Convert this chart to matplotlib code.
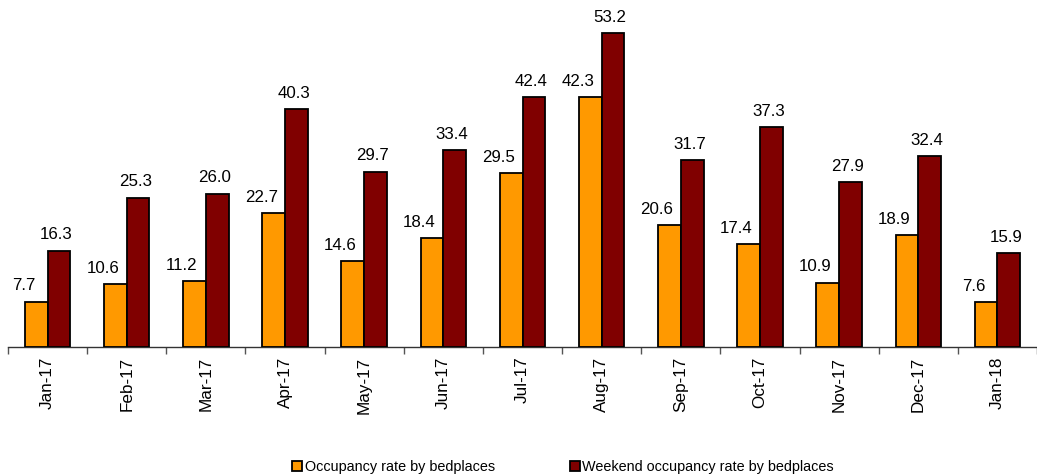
import matplotlib
matplotlib.use("Agg")
import matplotlib.pyplot as plt
import numpy as np

plt.rcParams['font.family'] = ['Liberation Sans', 'DejaVu Sans']

categories = ["Jan-17", "Feb-17", "Mar-17", "Apr-17", "May-17", "Jun-17", "Jul-17",
              "Aug-17", "Sep-17", "Oct-17", "Nov-17", "Dec-17", "Jan-18"]
occupancy = [7.7, 10.6, 11.2, 22.7, 14.6, 18.4, 29.5, 42.3, 20.6, 17.4, 10.9, 18.9, 7.6]
weekend = [16.3, 25.3, 26.0, 40.3, 29.7, 33.4, 42.4, 53.2, 31.7, 37.3, 27.9, 32.4, 15.9]
series_names = ["Occupancy rate by bedplaces", "Weekend occupancy rate by bedplaces"]

W, H = 1037, 476
fig = plt.figure(figsize=(W / 100, H / 100), dpi=100)
left_px, base_px, cat_px = 8, 347, 80
ax = fig.add_axes([left_px / W, (H - base_px) / H, 1 - left_px / W, base_px / H])

x = np.arange(len(categories))
bw = 23 / cat_px
b1 = ax.bar(x - bw / 2, occupancy, bw, color="#FF9900", edgecolor="black", linewidth=1.3, label=series_names[0], zorder=3)
b2 = ax.bar(x + bw / 2, weekend, bw, color="#800000", edgecolor="black", linewidth=1.3, label=series_names[1], zorder=3)

px_per_unit = 5.9
ax.set_ylim(0, base_px / px_per_unit)
ax.set_xlim(-0.5, -0.5 + (W - left_px) / cat_px)

for rects, dx in ((b1, -9), (b2, -2)):
    for r in rects:
        h = r.get_height()
        ax.annotate(f"{h:.1f}", (r.get_x() + r.get_width() / 2, h), xytext=(dx, 6),
                    textcoords="offset points", ha="center", va="bottom", fontsize=12.2,
                    annotation_clip=False)

for s in ["top", "right", "left"]:
    ax.spines[s].set_visible(False)
ax.spines["bottom"].set_linewidth(1.0)
ax.spines["bottom"].set_color("#333333")
ax.set_yticks([])

ax.set_xticks(np.arange(len(categories) + 1) - 0.5, minor=False)
ax.set_xticklabels([])
ax.tick_params(axis="x", which="major", length=5, color="#555555", width=1)
ax.set_xticks(x, minor=True)
ax.set_xticklabels(categories, minor=True, rotation=90, fontsize=12.3)
ax.tick_params(axis="x", which="minor", length=0, pad=7)

fig.legend(handles=[b1, b2], labels=series_names, loc="center", bbox_to_anchor=(563 / W, (H - 467) / H),
           ncol=2, frameon=False, fontsize=10.4, handlelength=0.7, handleheight=0.7,
           handletextpad=0.15, columnspacing=5.2, borderaxespad=0)

fig.savefig("out.png", dpi=100)
